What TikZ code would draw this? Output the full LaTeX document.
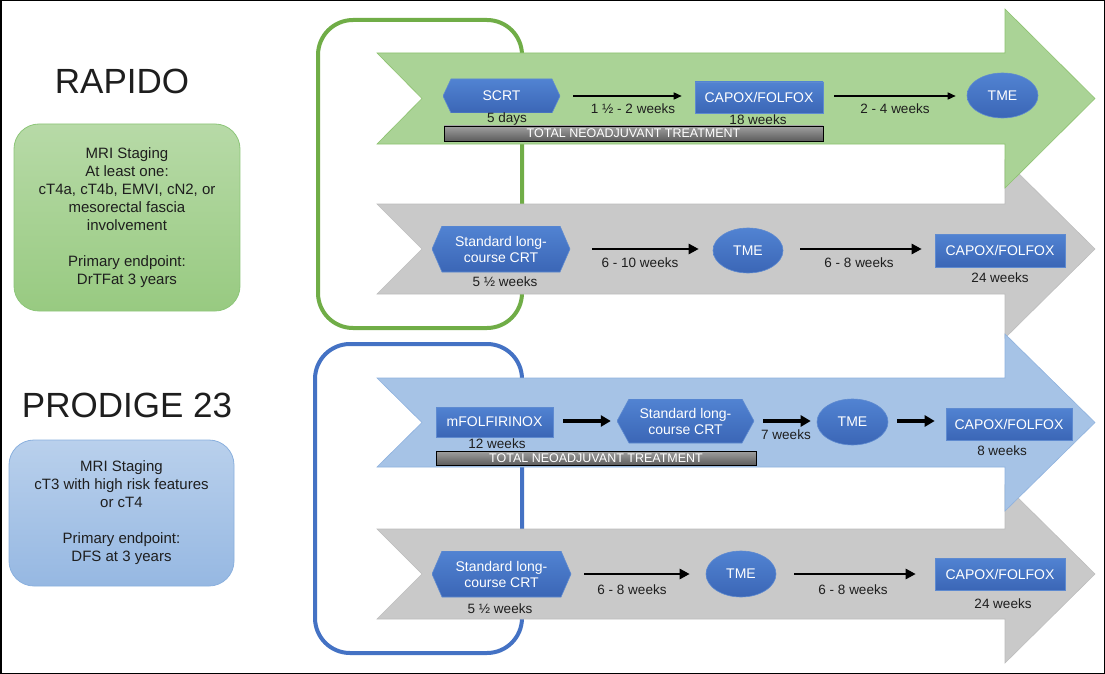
\documentclass[tikz,border=0pt]{standalone}
\usepackage{fontspec}
\setmainfont{Liberation Sans}
\usetikzlibrary{arrows.meta,shapes.geometric}
\definecolor{garrow}{HTML}{AAD396}
\definecolor{garrowedge}{HTML}{8DC26F}
\definecolor{grarrow}{HTML}{C9C9C9}
\definecolor{grarrowedge}{HTML}{BDBDBD}
\definecolor{barrow}{HTML}{A6C3E6}
\definecolor{barrowedge}{HTML}{8FB2DE}
\definecolor{gbracket}{HTML}{70AD47}
\definecolor{bbracket}{HTML}{4472C4}
\definecolor{shtop}{HTML}{5183D2}
\definecolor{shbot}{HTML}{3B66B6}
\definecolor{shedge}{HTML}{5E8AD0}
\definecolor{gboxtop}{HTML}{B7DAA7}
\definecolor{gboxbot}{HTML}{98CA81}
\definecolor{gboxedge}{HTML}{8DC679}
\definecolor{bboxtop}{HTML}{B9D0EC}
\definecolor{bboxbot}{HTML}{96B8E2}
\definecolor{bboxedge}{HTML}{8AB0DE}
\definecolor{bartop}{HTML}{A0A0A0}
\definecolor{barbot}{HTML}{5C5C5C}
\definecolor{txtdark}{HTML}{1E1E1E}
\newcommand\shpfont{\fontsize{14}{16}\selectfont}
\newcommand\lblfont{\fontsize{13.5}{16}\selectfont}
\newcommand\boxfont{\fontsize{15}{18}\selectfont}
\newcommand\ttlfont{\fontsize{35}{40}\selectfont}
\newcommand\barfont{\fontsize{12.5}{14}\selectfont}
\newcommand\bigarr[4]{\path[#1] (377,#2) -- (1005,#2) -- (1005,{#2-44}) -- (1095,#4) -- (1005,{#3+44}) -- (1005,#3) -- (377,#3) -- (422,#4) -- cycle;}
\begin{document}
\begin{tikzpicture}[x=1pt,y=-1pt,
  shp/.style={inner sep=0pt, text=white, font=\shpfont, align=center},
  rectbox/.style={shp, rectangle, top color=shtop, bottom color=shbot, draw=shedge, line width=0.6pt},
  ellbox/.style={shp, ellipse, top color=shtop, bottom color=shbot, draw=shedge, line width=0.6pt},
  hexbox/.style={shp, rectangle, /utils/exec={\def\hexin{#1}},
    path picture={\shade[top color=shtop, bottom color=shbot, draw=shedge, line width=0.6pt]
      (path picture bounding box.west) -- ([xshift=\hexin]path picture bounding box.north west)
      -- ([xshift=-\hexin]path picture bounding box.north east) -- (path picture bounding box.east)
      -- ([xshift=-\hexin]path picture bounding box.south east) -- ([xshift=\hexin]path picture bounding box.south west) -- cycle;}},
  lbl/.style={font=\lblfont, text=txtdark, inner sep=0pt},
  tntbar/.style={rectangle, inner sep=0pt, top color=bartop, bottom color=barbot, draw=black, line width=0.8pt, text=white, font=\barfont},
  conna/.style={line width=1.5pt, -{Triangle[length=8pt,width=7pt]}},
  connb/.style={line width=2.8pt, -{Triangle[length=10pt,width=10pt]}},
  connc/.style={line width=3.3pt, -{Triangle[length=10pt,width=11pt]}},
  infobox/.style={rectangle, rounded corners=25pt, line width=0.8pt, font=\boxfont, text=txtdark, align=center, inner sep=0pt},
  ttl/.style={font=\ttlfont, text=txtdark, inner sep=0pt},
  bracket/.style={line width=4pt, rounded corners=35pt},
  ]
\useasboundingbox (0,0) rectangle (1105,674);
\fill[white] (0,0) rectangle (1105,674);
\draw[line width=1.5pt] (0.75,0.75) rectangle (1104.25,673.25);

% left side
\node[ttl] (rapido) at (122,81) {RAPIDO};
\node[infobox, top color=gboxtop, bottom color=gboxbot, draw=gboxedge, minimum width=226pt, minimum height=187pt] (gbox) at (127,217.5)
  {MRI Staging\\At least one:\\cT4a, cT4b, EMVI, cN2, or\\mesorectal fascia\\involvement\\[18pt]Primary endpoint:\\DrTFat 3 years};
\node[ttl] (prodige) at (127,405) {PRODIGE 23};
\node[infobox, top color=bboxtop, bottom color=bboxbot, draw=bboxedge, minimum width=225pt, minimum height=146pt] (bbox) at (121.5,513)
  {MRI Staging\\cT3 with high risk features\\or cT4\\[18pt]Primary endpoint:\\DFS at 3 years};

% brackets
\draw[bracket, gbracket] (318,20) rectangle (522,328);
\draw[bracket, bbracket] (315,344) rectangle (522,653);

% big arrows
\bigarr{fill=grarrow, draw=grarrowedge, line width=0.6pt}{204}{294}{249}
\bigarr{fill=garrow, draw=garrowedge, line width=0.6pt}{53}{144}{98.5}
\bigarr{fill=grarrow, draw=grarrowedge, line width=0.6pt}{529}{619}{574}
\bigarr{fill=barrow, draw=barrowedge, line width=0.6pt}{378}{467}{422.5}

% row 1 RAPIDO experimental
\node[hexbox=8, minimum width=117pt, minimum height=34pt] (scrt) at (501.5,96) {SCRT};
\node[rectbox, minimum width=128pt, minimum height=31pt] (capoxa) at (759,97.5) {CAPOX/FOLFOX};
\node[ellbox, minimum width=71pt, minimum height=45pt] (tmea) at (1002.5,95.5) {TME};
\node[lbl] (scrtdur) at (507,119) {5 days};
\node[lbl] (capoxadur) at (758,120) {18 weeks};
\node[lbl] (gapa) at (633,109) {1 ½ - 2 weeks};
\node[lbl] (gapb) at (895,109) {2 - 4 weeks};
\node[tntbar, minimum width=379pt, minimum height=15pt] (tnta) at (633.5,133.5) {TOTAL NEOADJUVANT TREATMENT};
\draw[conna, shorten <=13pt, shorten >=13pt] (scrt.east) -- (scrt.east -| capoxa.west);
\draw[conna, shorten <=11pt, shorten >=11pt] (capoxa.east |- scrt.east) -- (scrt.east -| tmea.west);

% row 2 RAPIDO standard
\node[hexbox=10, minimum width=138pt, minimum height=46pt] (crta) at (501,249) {Standard long-\\course CRT};
\node[ellbox, minimum width=70pt, minimum height=45pt] (tmeb) at (748,250.5) {TME};
\node[rectbox, minimum width=130pt, minimum height=33pt] (capoxb) at (1000,250.5) {CAPOX/FOLFOX};
\node[lbl] (crtadur) at (505,282) {5 ½ weeks};
\node[lbl] (gapc) at (640,263) {6 - 10 weeks};
\node[lbl] (gapd) at (859,263) {6 - 8 weeks};
\node[lbl] (capoxbdur) at (1000,278) {24 weeks};
\draw[connb, shorten <=22pt, shorten >=14pt] (crta.east) -- (crta.east -| tmeb.west);
\draw[connb, shorten <=17pt, shorten >=13pt] (tmeb.east |- crta.east) -- (crta.east -| capoxb.west);

% row 3 PRODIGE experimental
\node[rectbox, minimum width=117pt, minimum height=30pt] (mfol) at (494.5,422) {mFOLFIRINOX};
\node[hexbox=12, minimum width=137pt, minimum height=44pt] (crtb) at (685.5,421) {Standard long-\\course CRT};
\node[ellbox, minimum width=71pt, minimum height=46pt] (tmec) at (852.5,422) {TME};
\node[rectbox, minimum width=126pt, minimum height=32pt] (capoxc) at (1009,424) {CAPOX/FOLFOX};
\node[lbl] (mfoldur) at (497,444) {12 weeks};
\node[lbl] (gape) at (786,435) {7 weeks};
\node[lbl] (capoxcdur) at (1002,451) {8 weeks};
\node[tntbar, minimum width=320pt, minimum height=14pt] (tntb) at (596,458) {TOTAL NEOADJUVANT TREATMENT};
\draw[connc, shorten <=10pt, shorten >=6pt] (mfol.east |- crtb.east) -- (crtb.west);
\draw[connc, shorten <=9pt, shorten >=6pt] (crtb.east) -- (crtb.east -| tmec.west);
\draw[connc, shorten <=9pt, shorten >=11pt] (tmec.east |- crtb.east) -- (crtb.east -| capoxc.west);

% row 4 PRODIGE standard
\node[hexbox=10, minimum width=139pt, minimum height=46pt] (crtc) at (501.5,574) {Standard long-\\course CRT};
\node[ellbox, minimum width=70pt, minimum height=46pt] (tmed) at (741,574) {TME};
\node[rectbox, minimum width=130pt, minimum height=32pt] (capoxd) at (1000,574) {CAPOX/FOLFOX};
\node[lbl] (crtcdur) at (500,609) {5 ½ weeks};
\node[lbl] (gapf) at (632,590) {6 - 8 weeks};
\node[lbl] (gapg) at (853,590) {6 - 8 weeks};
\node[lbl] (capoxddur) at (1003,604) {24 weeks};
\draw[connb, line width=2.6pt, shorten <=13pt, shorten >=16pt] (crtc.east) -- (crtc.east -| tmed.west);
\draw[connb, line width=2.6pt, shorten <=18pt, shorten >=19pt] (tmed.east) -- (capoxd.west);
\end{tikzpicture}
\end{document}
